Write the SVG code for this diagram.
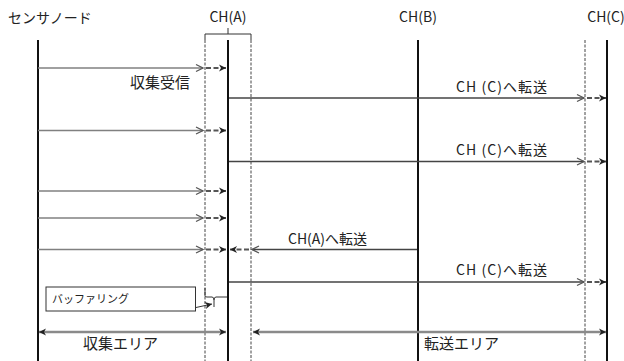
<svg xmlns="http://www.w3.org/2000/svg" width="624" height="361" viewBox="0 0 624 361">
<style>
text{font-family:"Noto Sans CJK JP","Noto Sans",sans-serif;fill:#222}
.life{stroke:#111;stroke-width:2;fill:none}
.dash{stroke:#444;stroke-width:1;stroke-dasharray:3 1.5;fill:none}
.sen{stroke:#808080;stroke-width:1.5;fill:none;marker-end:url(#chev)}
.fwd{stroke:#444;stroke-width:1.5;fill:none;marker-end:url(#chev)}
.dseg{stroke:#555;stroke-width:1.8;stroke-dasharray:5 2.5;fill:none;marker-end:url(#tip)}
.area{stroke:#8a8a8a;stroke-width:2.5;fill:none;marker-start:url(#tipS);marker-end:url(#tip)}
</style>
<defs>
<marker id="chev" markerUnits="userSpaceOnUse" viewBox="-9 -6 11 12" markerWidth="11" markerHeight="12" refX="0" refY="0" orient="auto">
<path d="M-7,-3.5 L0,0 L-7,3.5" fill="none" stroke="#555" stroke-width="1.3"/>
</marker>
<marker id="tip" markerUnits="userSpaceOnUse" viewBox="-9 -6 11 12" markerWidth="11" markerHeight="12" refX="0" refY="0" orient="auto">
<path d="M-7,-3.5 L0,0 L-7,3.5 L-5,0 Z" fill="#222"/>
</marker>
<marker id="tipS" markerUnits="userSpaceOnUse" viewBox="-9 -6 11 12" markerWidth="11" markerHeight="12" refX="0" refY="0" orient="auto-start-reverse">
<path d="M-7,-3.5 L0,0 L-7,3.5 L-5,0 Z" fill="#222"/>
</marker>
</defs>

<g id="sensor">
<text x="8" y="23" font-size="14">センサノード</text>
<line class="life" x1="38" y1="40" x2="38" y2="361"/>
</g>
<g id="chA">
<text x="228" y="22" font-size="14" text-anchor="middle">CH(A)</text>
<path d="M205,40 V34 H251 V40 M228,34 V28" fill="none" stroke="#333" stroke-width="1"/>
<line class="dash" x1="205" y1="40" x2="205" y2="361"/>
<line class="dash" x1="251" y1="40" x2="251" y2="361"/>
<line class="life" x1="228" y1="40" x2="228" y2="361" stroke-width="2.5"/>
</g>
<g id="chB">
<text x="418" y="22" font-size="14" text-anchor="middle">CH(B)</text>
<line class="life" x1="418" y1="40" x2="418" y2="361"/>
</g>
<g id="chC">
<text x="606" y="22" font-size="14" text-anchor="middle">CH(C)</text>
<line class="dash" x1="585" y1="40" x2="585" y2="361"/>
<line class="life" x1="607" y1="40" x2="607" y2="361"/>
</g>

<g id="connectors">
<line class="sen" x1="38" y1="68" x2="203" y2="68"/>
<line class="dseg" x1="206" y1="68" x2="226" y2="68"/>
<line class="sen" x1="38" y1="130.5" x2="203" y2="130.5"/>
<line class="dseg" x1="206" y1="130.5" x2="226" y2="130.5"/>
<line class="sen" x1="38" y1="191" x2="203" y2="191"/>
<line class="dseg" x1="206" y1="191" x2="226" y2="191"/>
<line class="sen" x1="38" y1="218" x2="203" y2="218"/>
<line class="dseg" x1="206" y1="218" x2="226" y2="218"/>
<line class="sen" x1="38" y1="249.5" x2="203" y2="249.5"/>
<line class="dseg" x1="206" y1="249.5" x2="226" y2="249.5"/>

<line class="fwd" x1="229" y1="98" x2="584" y2="98"/>
<line class="dseg" x1="587" y1="98" x2="606" y2="98"/>
<line class="fwd" x1="229" y1="161.5" x2="584" y2="161.5"/>
<line class="dseg" x1="587" y1="161.5" x2="606" y2="161.5"/>
<line class="fwd" x1="229" y1="282" x2="584" y2="282" stroke="#6a6a6a"/>
<line class="dseg" x1="587" y1="282" x2="606" y2="282"/>

<line class="fwd" x1="417" y1="249.5" x2="252" y2="249.5" stroke="#333"/>
<line class="dseg" x1="249" y1="249.5" x2="230" y2="249.5"/>

<path d="M205,288 V296 Q205,297 207,297 H212 Q214,297 214,300 V307 M214,300 Q214,297 216,297 H227" fill="none" stroke="#333" stroke-width="1"/>
<line x1="196" y1="307.5" x2="212" y2="304" stroke="#333" stroke-width="1" marker-end="url(#tip)"/>

<line class="area" x1="39" y1="332" x2="226" y2="332"/>
<line class="area" x1="253" y1="332" x2="606" y2="332"/>
</g>

<g id="labels">
<text x="130" y="88" font-size="15">収集受信</text>
<text x="456" y="92" font-size="14" textLength="91" lengthAdjust="spacing">CH (C)へ転送</text>
<text x="456" y="155" font-size="14" textLength="91" lengthAdjust="spacing">CH (C)へ転送</text>
<text x="456" y="275" font-size="14" textLength="91" lengthAdjust="spacing">CH (C)へ転送</text>
<text x="288" y="244" font-size="14">CH(A)へ転送</text>
<text x="83" y="349" font-size="15">収集エリア</text>
<text x="424" y="349" font-size="15">転送エリア</text>
</g>

<g id="buffer">
<rect x="46" y="287" width="149.5" height="24" fill="#fff" stroke="#333" stroke-width="1"/>
<text x="52" y="303" font-size="11">バッファリング</text>
</g>
</svg>
